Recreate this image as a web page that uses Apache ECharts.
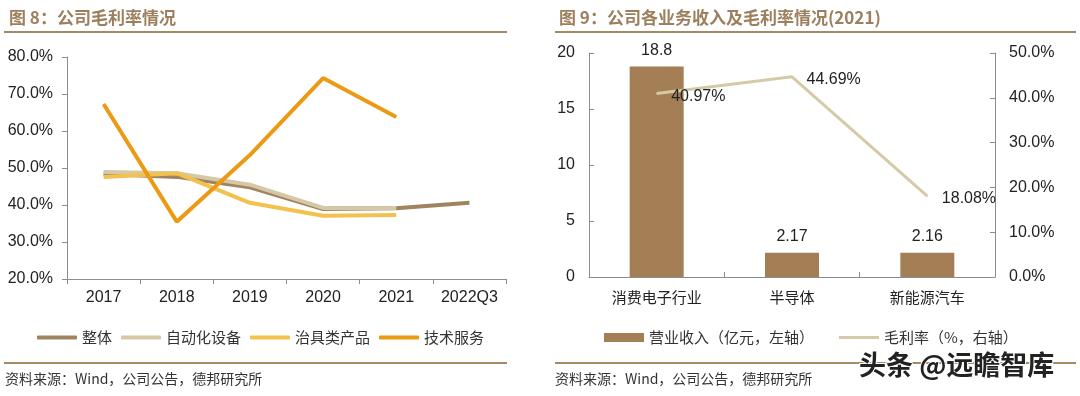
<!DOCTYPE html>
<html><head><meta charset="utf-8">
<script src="https://cdn.jsdelivr.net/npm/echarts@6/dist/echarts.min.js"></script>
<style>html,body{margin:0;padding:0;background:#fff}#c{width:1080px;height:396px}</style>
</head><body><div id="c"></div>
<script>
// Left chart data (gross margin %, by year)
const years = ['2017','2018','2019','2020','2021','2022Q3'];
const overall = [48.4, 47.6, 44.8, 38.9, 39.1, 40.6];
const automation = [48.9, 48.6, 45.5, 39.2, 39.2, null];
const fixtures = [47.6, 48.6, 40.6, 37.1, 37.3, null];
const techService = [67.3, 35.5, 53.5, 74.3, 63.8, null];
// Right chart data (2021)
const segments = ['消费电子行业','半导体','新能源汽车'];
const revenue = [18.8, 2.17, 2.16];
const margin = [40.97, 44.69, 18.08];

const CJK = '"Noto Sans CJK SC", sans-serif';
const LAT = '"Liberation Sans", Arial, sans-serif';
const ruleColor = '#a48a64';
const axisColor = '#8c8c8c';
const legendText = {fontFamily: CJK, fontSize: 15, color: '#333'};

const chart = echarts.init(document.getElementById('c'));
chart.setOption({
  animation: false,
  backgroundColor: '#fff',
  title: [
    {text: '图 8：公司毛利率情况', left: 4, top: 4, textStyle: {fontFamily: CJK, fontSize: 17, fontWeight: 'bold', color: '#9c7f5c'}},
    {text: '图 9：公司各业务收入及毛利率情况(2021)', left: 554, top: 4, textStyle: {fontFamily: CJK, fontSize: 17, fontWeight: 'bold', color: '#9c7f5c'}}
  ],
  graphic: [
    {type: 'rect', shape: {x: 4, y: 31, width: 503, height: 2}, style: {fill: ruleColor}},
    {type: 'rect', shape: {x: 555, y: 31, width: 521, height: 2}, style: {fill: ruleColor}},
    {type: 'rect', shape: {x: 4, y: 362, width: 503, height: 2}, style: {fill: ruleColor}},
    {type: 'rect', shape: {x: 555, y: 362, width: 521, height: 2}, style: {fill: ruleColor}},
    {type: 'text', left: 5, top: 372, style: {text: '资料来源：Wind，公司公告，德邦研究所', font: '14px ' + CJK, fill: '#333'}},
    {type: 'text', left: 555, top: 372, style: {text: '资料来源：Wind，公司公告，德邦研究所', font: '14px ' + CJK, fill: '#333'}},
    {type: 'text', left: 858, top: 350, z: 100, style: {text: '头条 @远瞻智库', font: 'bold 27px ' + CJK, fill: '#222', stroke: '#fff', lineWidth: 2}}
  ],
  legend: [
    {left: 32, top: 325, itemWidth: 40, itemHeight: 4, itemGap: 9, icon: 'roundRect',
     textStyle: legendText, data: ['整体','自动化设备','治具类产品','技术服务']},
    {left: 599, top: 325, itemWidth: 40, itemHeight: 9, icon: 'rect',
     textStyle: legendText, data: ['营业收入（亿元，左轴）']},
    {left: 834, top: 325, itemWidth: 40, itemHeight: 3, icon: 'rect',
     textStyle: legendText, data: ['毛利率（%，右轴）']}
  ],
  grid: [
    {left: 67, right: 574, top: 57, bottom: 117},
    {left: 589, right: 85, top: 53, bottom: 119}
  ],
  xAxis: [
    {type: 'category', gridIndex: 0, data: years, boundaryGap: true,
     axisLine: {lineStyle: {color: axisColor}}, axisTick: {show: true, length: 5, lineStyle: {color: axisColor}},
     axisLabel: {interval: 0, fontFamily: LAT, fontSize: 16, color: '#222', margin: 11}},
    {type: 'category', gridIndex: 1, data: segments, boundaryGap: true,
     axisLine: {lineStyle: {color: axisColor}}, axisTick: {show: true, inside: true, length: 5, lineStyle: {color: axisColor}},
     axisLabel: {interval: 0, fontFamily: CJK, fontSize: 15, color: '#222', margin: 13}}
  ],
  yAxis: [
    {type: 'value', gridIndex: 0, min: 20, max: 80, interval: 10,
     axisLine: {show: true, lineStyle: {color: axisColor}}, axisTick: {show: true, length: 5, lineStyle: {color: axisColor}},
     splitLine: {show: false},
     axisLabel: {fontFamily: LAT, fontSize: 16, color: '#222', margin: 14, formatter: v => v.toFixed(1) + '%'}},
    {type: 'value', gridIndex: 1, min: 0, max: 20, interval: 5,
     axisLine: {show: true, lineStyle: {color: axisColor}}, axisTick: {show: true, inside: true, length: 5, lineStyle: {color: axisColor}},
     splitLine: {show: false},
     axisLabel: {fontFamily: LAT, fontSize: 16, color: '#222', margin: 14}},
    {type: 'value', gridIndex: 1, position: 'right', min: 0, max: 50, interval: 10,
     axisLine: {show: true, lineStyle: {color: axisColor}}, axisTick: {show: true, inside: true, length: 5, lineStyle: {color: axisColor}},
     splitLine: {show: false},
     axisLabel: {fontFamily: LAT, fontSize: 16, color: '#222', margin: 14, formatter: v => v.toFixed(1) + '%'}}
  ],
  series: [
    {name: '整体', type: 'line', xAxisIndex: 0, yAxisIndex: 0, data: overall, symbol: 'none',
     lineStyle: {width: 4, color: '#a08460'}, itemStyle: {color: '#a08460'}},
    {name: '自动化设备', type: 'line', xAxisIndex: 0, yAxisIndex: 0, data: automation, symbol: 'none',
     lineStyle: {width: 4, color: '#d6c8a6'}, itemStyle: {color: '#d6c8a6'}},
    {name: '治具类产品', type: 'line', xAxisIndex: 0, yAxisIndex: 0, data: fixtures, symbol: 'none',
     lineStyle: {width: 4, color: '#f3c24e'}, itemStyle: {color: '#f3c24e'}},
    {name: '技术服务', type: 'line', xAxisIndex: 0, yAxisIndex: 0, data: techService, symbol: 'none',
     lineStyle: {width: 4, color: '#eb9a14'}, itemStyle: {color: '#eb9a14'}},
    {name: '营业收入（亿元，左轴）', type: 'bar', xAxisIndex: 1, yAxisIndex: 1, data: revenue, barWidth: 54,
     itemStyle: {color: '#a47f56'},
     label: {show: true, position: 'top', distance: 8, fontFamily: LAT, fontSize: 16, color: '#222'}},
    {name: '毛利率（%，右轴）', type: 'line', xAxisIndex: 1, yAxisIndex: 2, data: margin,
     symbol: 'circle', symbolSize: 1, showSymbol: true,
     lineStyle: {width: 3, color: '#d5caa8'}, itemStyle: {color: '#d5caa8'},
     label: {show: true, position: 'right', distance: 14, offset: [0, 3], fontFamily: LAT, fontSize: 16, color: '#222',
             formatter: p => p.value.toFixed(2) + '%'}}
  ]
});
</script></body></html>
